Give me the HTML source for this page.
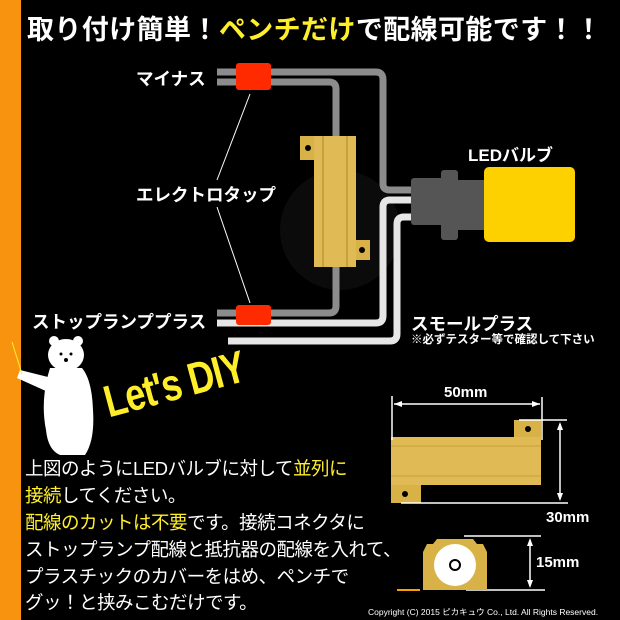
<!DOCTYPE html>
<html><head><meta charset="utf-8"><style>
body{margin:0;width:620px;height:620px;background:#000;overflow:hidden;position:relative;font-family:"Liberation Sans","Noto Sans CJK JP",sans-serif;}
.t{position:absolute;white-space:nowrap;color:#fff;font-weight:bold;}
.y{color:#ffef2a}
.body{position:absolute;left:25px;font-size:18.5px;font-weight:normal;color:#fff;white-space:nowrap;letter-spacing:-0.5px}
</style></head><body>
<div style="position:absolute;left:0;top:0;width:21px;height:620px;background:#f7930f"></div>
<div class="t" style="left:27px;top:8px;font-size:27px;letter-spacing:0.4px">取り付け簡単！<span class="y">ペンチだけ</span>で配線可能です！！</div>
<svg width="620" height="620" style="position:absolute;left:0;top:0">
<circle cx="340" cy="230" r="60" fill="#0b0b0b"/>
<g fill="none" stroke-linejoin="round">
<path d="M217 72 H376 Q383 72 383 80 V184 Q383 190 390 190 H412" stroke="#8c8c8c" stroke-width="7"/>
<path d="M217 82 H329 Q336 82 336 89 V140" stroke="#8c8c8c" stroke-width="7"/>
<path d="M217 313 H329 Q336 313 336 306 V265" stroke="#8c8c8c" stroke-width="7"/>
<path d="M217 323 H376 Q383 323 383 316 V207 Q383 200 390 200 H412" stroke="#e6e6e6" stroke-width="7"/>
<path d="M228 341 H390 Q397 341 397 334 V224 Q397 217 404 217 H412" stroke="#e6e6e6" stroke-width="7"/>
<line x1="250" y1="94" x2="217" y2="180" stroke="#fff" stroke-width="1"/>
<line x1="217" y1="207" x2="250" y2="303" stroke="#fff" stroke-width="1"/>
</g>
<rect x="236" y="63" width="35" height="27" rx="3" fill="#ff2a00"/>
<rect x="236" y="305" width="35" height="20" rx="3" fill="#ff2a00"/>
<rect x="300" y="136" width="16" height="24" fill="#d9b247"/>
<circle cx="308" cy="148" r="3" fill="#000"/>
<rect x="354" y="240" width="16" height="20" fill="#d9b247"/>
<circle cx="362" cy="250" r="3" fill="#000"/>
<rect x="314" y="136" width="42" height="131" fill="#e0ba55"/>
<rect x="322" y="136" width="2" height="131" fill="#c9a03c"/>
<rect x="346" y="136" width="2" height="131" fill="#c9a03c"/>
<rect x="411" y="178" width="36" height="47" rx="3" fill="#555"/>
<rect x="441" y="170" width="17" height="70" rx="3" fill="#555"/>
<rect x="456" y="180" width="30" height="50" fill="#555"/>
<rect x="484" y="167" width="91" height="75" rx="5" fill="#fdd000"/>
<rect x="514" y="420" width="27" height="18" fill="#d9b247"/><circle cx="528" cy="429" r="3" fill="#000"/>
<rect x="391" y="484" width="30" height="19" fill="#d9b247"/><circle cx="405" cy="494" r="3" fill="#000"/>
<rect x="391" y="437" width="150" height="48" fill="#e0ba55"/>
<line x1="391" y1="446" x2="541" y2="446" stroke="#c9a03c"/>
<line x1="391" y1="476" x2="541" y2="476" stroke="#c9a03c"/>
<g stroke="#fff" stroke-width="1.5" fill="#fff">
<line x1="392" y1="396" x2="392" y2="440"/><line x1="542" y1="397" x2="542" y2="440"/>
<line x1="394" y1="404" x2="540" y2="404"/>
<line x1="519" y1="420" x2="567" y2="420"/><line x1="401" y1="503" x2="568" y2="503"/>
<line x1="560" y1="424" x2="560" y2="499"/>
<line x1="464" y1="536" x2="541" y2="536"/><line x1="466" y1="590" x2="545" y2="590"/>
<line x1="530" y1="540" x2="530" y2="586"/>
<path d="M394 404 l8 -3 v6z M540 404 l-8 -3 v6z M560 422 l-3 8 h6z M560 501 l-3 -8 h6z M530 538 l-3 8 h6z M530 588 l-3 -8 h6z" stroke="none"/>
</g>
<path d="M423 590 V552 l4 -8 h6 l4 -5 h36 l4 5 h6 l4 8 V590z" fill="#d9b247"/>
<circle cx="455" cy="565" r="21" fill="#fff"/><circle cx="455" cy="565" r="5" fill="none" stroke="#000" stroke-width="2"/>
<line x1="397" y1="590" x2="420" y2="590" stroke="#f7a000" stroke-width="2"/>
<g fill="#fff">
<ellipse cx="66" cy="355" rx="18" ry="16"/><circle cx="54" cy="341" r="5"/><circle cx="78" cy="341" r="5"/>
<path d="M50 368 Q40 400 46 430 Q48 450 60 455 H85 Q95 440 93 410 Q92 380 82 368z"/>
<path d="M52 378 L20 370 L17 378 L48 392z"/>
</g>
<circle cx="61" cy="354" r="1.5" fill="#000"/><circle cx="71" cy="354" r="1.5" fill="#000"/><circle cx="66" cy="360" r="2" fill="#000"/>
<line x1="12" y1="342" x2="22" y2="374" stroke="#ffef2a" stroke-width="1"/>
</svg>
<div class="t" style="left:136px;top:66px;font-size:17.5px">マイナス</div>
<div class="t" style="left:136px;top:182px;font-size:17.5px">エレクトロタップ</div>
<div class="t" style="left:32px;top:309px;font-size:17.5px">ストップランププラス</div>
<div class="t" style="left:468px;top:141px;font-size:17px">LEDバルブ</div>
<div class="t" style="left:411px;top:311px;font-size:17.5px">スモールプラス</div>
<div class="t" style="left:411px;top:331px;font-size:11.5px">※必ずテスター等で確認して下さい</div>
<div class="t y" style="left:105px;top:382px;font-size:36px;font-family:'Liberation Sans Narrow','Liberation Sans',sans-serif;transform:rotate(-15deg) scaleY(1.25);transform-origin:left center;letter-spacing:-1px">Let's DIY</div>
<div class="body" style="top:455px">上図のようにLEDバルブに対して<span class="y">並列に</span></div>
<div class="body" style="top:482px"><span class="y">接続</span>してください。</div>
<div class="body" style="top:509px"><span class="y">配線のカットは不要</span>です。接続コネクタに</div>
<div class="body" style="top:536px">ストップランプ配線と抵抗器の配線を入れて、</div>
<div class="body" style="top:563px">プラスチックのカバーをはめ、ペンチで</div>
<div class="body" style="top:589px">グッ！と挟みこむだけです。</div>
<div class="t" style="left:444px;top:384px;font-size:15px">50mm</div>
<div class="t" style="left:546px;top:509px;font-size:15px">30mm</div>
<div class="t" style="left:536px;top:554px;font-size:15px">15mm</div>
<div class="t" style="left:368px;top:606px;font-size:8.5px;font-weight:normal">Copyright (C) 2015 ピカキュウ Co., Ltd. All Rights Reserved.</div>
</body></html>
